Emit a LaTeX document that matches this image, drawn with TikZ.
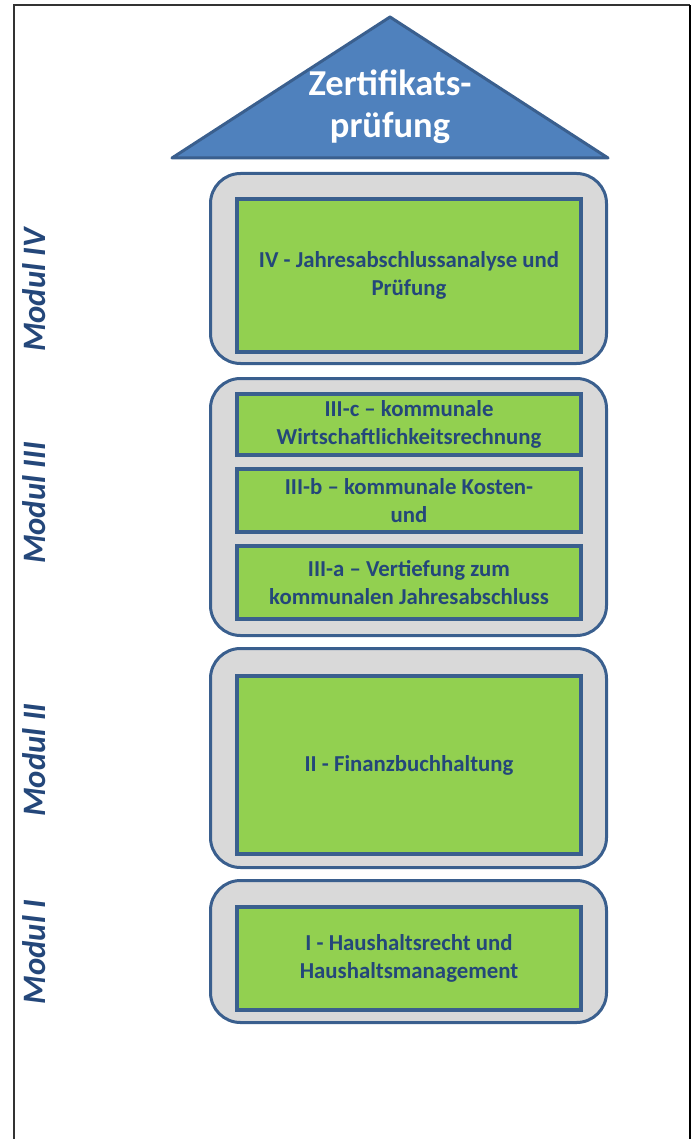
\documentclass[tikz,border=0pt]{standalone}
\usepackage{fontspec}
\setmainfont{Carlito}
\definecolor{dachblau}{HTML}{4F81BD}
\definecolor{randblau}{HTML}{3A5F8E}
\definecolor{textblau}{HTML}{24477A}
\definecolor{modulgruen}{HTML}{92D050}
\definecolor{modulgrau}{HTML}{D9D9D9}
\tikzset{
  aussen/.style={draw=randblau, line width=3pt, fill=modulgrau, rounded corners=30pt, inner sep=0pt, minimum width=396pt},
  innen/.style={draw=randblau, line width=4pt, fill=modulgruen, inner sep=0pt, minimum width=344pt, align=center, text=textblau, font=\fontsize{22.8}{28}\selectfont\bfseries},
  modul/.style={rotate=90, text=textblau, font=\fontsize{32.7}{38}\selectfont\bfseries\itshape}
}
\begin{document}
\begin{tikzpicture}[x=1pt,y=1pt]
    \useasboundingbox (0,0) rectangle (699,-1139);

    % Rahmen
    \coordinate (r1) at (14,-1139);
    \coordinate (r2) at (14,-5);
    \coordinate (r3) at (690,-5);
    \coordinate (r4) at (690,-1139);
    \draw[line width=1.2pt, black!80] (r1) -- (r2) -- (r3);
    \draw[line width=2.4pt] (r3) -- (r4);

    % Dach
    \coordinate (d1) at (390,-17);
    \coordinate (d2) at (172,-158);
    \coordinate (d3) at (608,-158);
    \draw[line width=3pt, draw=randblau, fill=dachblau, line join=round] (d2) -- (d1) -- (d3) -- cycle;
    \node[align=center, text=white, font=\fontsize{36.5}{42}\selectfont\bfseries] (zp) at (390,-107) {Zertifikats-\\prüfung};

    % Modul IV
    \node[aussen, minimum height=190pt] (m4) at (408.5,-268.5) {};
    \node[innen, minimum height=153pt] (m4a) at (409,-275.5) {IV - Jahresabschlussanalyse und\\Prüfung};

    % Modul III
    \node[aussen, minimum height=257pt] (m3) at (408.5,-507) {};
    \node[innen, minimum height=61pt] (m3c) at (409,-424.5) {III-c -- kommunale\\Wirtschaftlichkeitsrechnung};
    \node[innen, minimum height=63pt] (m3b) at (409,-500.5) {III-b -- kommunale Kosten-\\und};
    \node[innen, minimum height=73pt] (m3a) at (409,-582.5) {III-a -- Vertiefung zum\\kommunalen Jahresabschluss};

    % Modul II
    \node[aussen, minimum height=219pt] (m2) at (408.5,-758) {};
    \node[innen, minimum height=178pt] (m2a) at (409,-765) {II - Finanzbuchhaltung};

    % Modul I
    \node[aussen, minimum height=142pt] (m1) at (408.5,-951.5) {};
    \node[innen, minimum height=103pt] (m1a) at (409,-958.5) {I - Haushaltsrecht und\\Haushaltsmanagement};

    % Beschriftung
    \node[modul] (l4) at (34,-290) {Modul IV};
    \node[modul] (l3) at (34,-503) {Modul III};
    \node[modul] (l2) at (34,-760) {Modul II};
    \node[modul] (l1) at (34,-952) {Modul I};
\end{tikzpicture}
\end{document}
